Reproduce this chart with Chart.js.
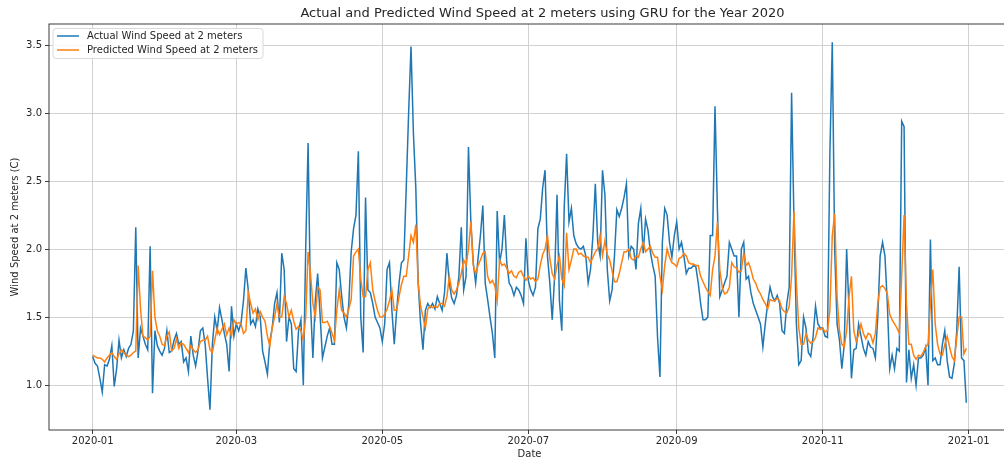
<!DOCTYPE html>
<html>
<head>
<meta charset="utf-8">
<title>Wind Speed GRU 2020</title>
<script src="https://cdn.jsdelivr.net/npm/chart.js@4.4.1/dist/chart.umd.min.js"></script>
<style>
  html, body { margin: 0; padding: 0; background: #fff; overflow: hidden; }
  #wrap { width: 1004px; height: 459px; overflow: hidden; position: relative; }
  canvas { position: absolute; left: 0; top: 0; }
</style>
</head>
<body>
<div id="wrap"><canvas id="chart" width="1030" height="470"></canvas></div>
<script>
const titleText = "Actual and Predicted Wind Speed at 2 meters using GRU for the Year 2020";
const actualLabel = "Actual Wind Speed at 2 meters";
const predictedLabel = "Predicted Wind Speed at 2 meters";

// day number (0 = 2020-01-01) of each month tick, and its label
const tickDays = [0, 60, 121, 182, 244, 305, 366];
const tickLabels = ["2020-01", "2020-03", "2020-05", "2020-07", "2020-09", "2020-11", "2021-01"];
const yTicks = [1.0, 1.5, 2.0, 2.5, 3.0, 3.5];

// one value per day, 2020-01-01 .. 2020-12-31
const actual = [
  1.21, 1.16, 1.14, 1.05, 0.95, 1.15, 1.14, 1.19, 1.29, 0.99,
  1.12, 1.33, 1.2, 1.26, 1.21, 1.27, 1.3, 1.4, 2.16, 1.2,
  1.42, 1.36, 1.3, 1.26, 2.02, 0.94, 1.4, 1.29, 1.25, 1.22,
  1.27, 1.4, 1.24, 1.25, 1.33, 1.38, 1.3, 1.32, 1.17, 1.2,
  1.1, 1.36, 1.22, 1.14, 1.25, 1.4, 1.42, 1.3, 1.05, 0.82,
  1.3, 1.5, 1.4, 1.57, 1.48, 1.38, 1.3, 1.1, 1.58, 1.36,
  1.45, 1.4, 1.46, 1.62, 1.86, 1.7, 1.45, 1.48, 1.43, 1.56,
  1.5, 1.25, 1.17, 1.08, 1.32, 1.42, 1.6, 1.68, 1.46, 1.97,
  1.85, 1.32, 1.5, 1.45, 1.12, 1.1, 1.4, 1.48, 1.0, 2.0,
  2.78, 1.6, 1.2, 1.62, 1.82, 1.52, 1.2, 1.28, 1.36, 1.42,
  1.3, 1.3, 1.9, 1.85, 1.66, 1.5, 1.42, 1.6, 1.98, 2.15,
  2.25, 2.72, 1.5, 1.24, 2.38, 1.7, 1.68, 1.6, 1.5, 1.46,
  1.42, 1.32, 1.45, 1.85, 1.9, 1.55, 1.3, 1.55, 1.75, 1.9,
  1.92, 2.45, 3.0, 3.49, 2.85, 2.45, 1.75, 1.45, 1.26, 1.55,
  1.6, 1.57, 1.6, 1.56, 1.65, 1.6, 1.55, 1.68, 1.97, 1.75,
  1.64, 1.6, 1.66, 1.8, 2.16, 1.7, 1.8, 2.75, 2.2, 1.9,
  1.75, 1.93, 2.1, 2.32, 1.75, 1.63, 1.5, 1.38, 1.2, 2.28,
  1.9, 2.0, 2.25, 1.9, 1.75, 1.72, 1.66, 1.72, 1.7, 1.66,
  1.6, 2.08, 1.77, 1.7, 1.66, 1.72, 2.15, 2.22, 2.45, 2.58,
  1.95, 1.75, 1.48, 1.8, 2.4, 1.62, 1.4, 2.3, 2.7, 2.2,
  2.3, 2.1, 2.04, 2.01, 2.0, 2.02, 1.95, 1.75, 1.85, 2.1,
  2.48, 2.05, 1.95, 2.58, 2.4, 1.85, 1.62, 1.7, 1.95, 2.29,
  2.24, 2.3, 2.38, 2.48, 1.95, 2.02, 2.0, 1.85, 2.19, 2.3,
  1.97, 2.22, 2.14, 1.98, 1.88, 1.8, 1.35, 1.06, 2.05, 2.3,
  2.25, 2.05, 1.94, 2.1, 2.2, 2.0, 2.05, 1.95, 1.82, 1.86,
  1.86, 1.88, 1.87, 1.75, 1.6, 1.48, 1.48, 1.5, 2.1, 2.1,
  3.05, 2.3, 1.65, 1.7, 1.75, 1.8, 2.05, 2.0, 1.95, 1.95,
  1.5, 2.0, 2.05, 1.78, 1.8, 1.68, 1.6, 1.55, 1.5, 1.45,
  1.28, 1.45, 1.6, 1.72, 1.65, 1.62, 1.66, 1.6, 1.4, 1.38,
  1.6, 1.72, 3.15, 2.2, 1.45, 1.15, 1.18, 1.5, 1.42, 1.24,
  1.21, 1.36, 1.58, 1.45, 1.42, 1.42, 1.36, 1.35, 2.7, 3.52,
  2.0, 1.45, 1.33, 1.12, 1.3, 2.0, 1.55, 1.05, 1.26, 1.27,
  1.45, 1.36, 1.27, 1.22, 1.32, 1.28, 1.27, 1.2, 1.5, 1.95,
  2.05, 1.95, 1.6, 1.12, 1.22, 1.12, 1.27, 1.25, 2.94, 2.9,
  1.02, 1.26, 1.05, 1.15, 1.0, 1.2, 1.2, 1.22, 1.28, 1.0,
  2.07, 1.18, 1.2, 1.15, 1.15, 1.3, 1.4, 1.18, 1.06, 1.05,
  1.16, 1.4, 1.87, 1.2, 1.18, 0.87
];

const predicted = [
  1.22, 1.21, 1.2, 1.2, 1.19, 1.17, 1.2, 1.22, 1.24, 1.21,
  1.19, 1.23, 1.26, 1.24, 1.22, 1.21, 1.22, 1.24, 1.25, 1.88,
  1.56, 1.36, 1.35, 1.33, 1.36, 1.84, 1.5, 1.4, 1.36, 1.3,
  1.29, 1.36, 1.39, 1.25, 1.27, 1.34, 1.27, 1.31, 1.3, 1.27,
  1.24, 1.29, 1.26, 1.24, 1.26, 1.32, 1.33, 1.33, 1.36, 1.26,
  1.24, 1.33, 1.42, 1.37, 1.41, 1.45, 1.37, 1.42, 1.36, 1.48,
  1.45, 1.46, 1.45, 1.38, 1.4, 1.68, 1.6, 1.53, 1.56, 1.48,
  1.54, 1.5, 1.47, 1.36, 1.29, 1.42, 1.5, 1.6, 1.5, 1.5,
  1.65, 1.6, 1.5, 1.55, 1.47, 1.41, 1.43, 1.4, 1.33, 1.5,
  1.98, 1.82, 1.6, 1.5, 1.72, 1.7, 1.46, 1.46, 1.47, 1.43,
  1.38, 1.33, 1.55, 1.7, 1.55, 1.53, 1.5, 1.56, 1.63, 1.95,
  1.98, 2.0, 1.78, 1.65, 1.65, 1.85, 1.9, 1.7, 1.62, 1.55,
  1.5, 1.5, 1.52, 1.56, 1.62, 1.7, 1.55, 1.55, 1.65, 1.74,
  1.8, 1.8, 1.95, 2.1, 2.05, 2.18, 1.75, 1.58, 1.5, 1.42,
  1.56, 1.58, 1.57, 1.58, 1.57, 1.6, 1.6, 1.58, 1.65, 1.8,
  1.7, 1.67, 1.7, 1.75, 1.82, 1.92, 1.88, 2.0, 2.2, 1.88,
  1.82, 1.88, 1.92, 1.97, 1.98, 1.8, 1.75, 1.77, 1.73, 1.62,
  1.92, 1.88, 1.89, 1.86, 1.82, 1.84, 1.8, 1.79, 1.83, 1.84,
  1.8, 1.77, 1.8, 1.78, 1.79, 1.76, 1.78, 1.88, 1.96, 2.0,
  2.1, 1.93, 1.82, 1.78, 1.88, 1.95, 1.78, 1.73, 2.12, 1.85,
  1.92, 2.0, 2.0, 1.96, 1.97, 1.95, 1.94, 1.94, 1.9, 1.94,
  1.98, 2.0, 2.1, 1.95, 2.06, 1.96, 1.92, 1.84, 1.76, 1.76,
  1.82, 1.9, 1.98, 1.98, 2.0, 1.93, 1.92, 1.95, 1.94, 2.0,
  2.05, 1.98, 2.0, 2.02, 1.97, 1.94, 1.94, 1.8, 1.7, 1.88,
  2.0, 1.94, 1.9, 1.89, 1.87, 1.93, 1.94, 1.97, 1.95, 1.9,
  1.89, 1.89, 1.88, 1.88, 1.8, 1.76, 1.72, 1.69, 1.66, 1.85,
  1.95, 2.2, 1.85, 1.72, 1.67, 1.68, 1.72, 1.9, 1.87, 1.86,
  1.83, 1.84, 1.97, 1.88, 1.9, 1.85, 1.78, 1.75, 1.7, 1.67,
  1.63, 1.6, 1.56, 1.63, 1.62, 1.62, 1.64, 1.62, 1.56, 1.54,
  1.53, 1.58, 1.8, 2.28, 1.75, 1.42, 1.3, 1.3, 1.38, 1.33,
  1.31, 1.32, 1.35, 1.42, 1.41, 1.42, 1.39, 1.4, 1.55, 2.1,
  2.26, 1.65, 1.4, 1.3, 1.28, 1.4, 1.65, 1.8, 1.4, 1.32,
  1.37, 1.45, 1.38, 1.34, 1.38, 1.37, 1.31, 1.38, 1.6, 1.72,
  1.73, 1.71, 1.67, 1.52, 1.48, 1.45, 1.42, 1.38, 1.8, 2.25,
  1.6, 1.3, 1.3, 1.22, 1.19, 1.22, 1.21, 1.24, 1.28, 1.3,
  1.6, 1.85, 1.45, 1.3, 1.23, 1.22, 1.3, 1.36, 1.28, 1.21,
  1.18, 1.35, 1.5, 1.5, 1.23, 1.27
];

const textColor = "#262626";
const gridColor = "#cccccc";
const baseFont = { family: "'DejaVu Sans', sans-serif", size: 10 };

// matplotlib-like box around the whole plot area
const frame = {
  id: "frame",
  afterDatasetsDraw(chart) {
    const { ctx, chartArea: a } = chart;
    ctx.save();
    ctx.strokeStyle = textColor;
    ctx.lineWidth = 0.9;
    ctx.strokeRect(a.left, a.top, a.right - a.left, a.bottom - a.top);
    ctx.restore();
  }
};

// title centred over the axes, not over the canvas
const topTitle = {
  id: "topTitle",
  afterDraw(chart) {
    const { ctx, chartArea: a } = chart;
    ctx.save();
    ctx.font = "13px 'DejaVu Sans', sans-serif";
    ctx.fillStyle = textColor;
    ctx.textAlign = "center";
    ctx.textBaseline = "middle";
    ctx.fillText(titleText, (a.left + a.right) / 2 + 13, 14);
    ctx.restore();
  }
};

// legend box inside the upper left corner
const boxLegend = {
  id: "boxLegend",
  afterDraw(chart) {
    const { ctx, chartArea: a } = chart;
    const sets = chart.data.datasets;
    ctx.save();
    ctx.font = "10px 'DejaVu Sans', sans-serif";
    const textW = Math.max(...sets.map(d => ctx.measureText(d.label).width));
    const x = a.left + 4, y = a.top + 4.5;
    const w = 4 + 22 + 8 + textW + 5, h = 30;
    ctx.beginPath();
    ctx.roundRect(x, y, w, h, 3);
    ctx.fillStyle = "rgba(255,255,255,0.85)";
    ctx.fill();
    ctx.strokeStyle = "#d9d9d9";
    ctx.lineWidth = 1;
    ctx.stroke();
    sets.forEach((d, i) => {
      const cy = y + 7.5 + i * 14;
      ctx.strokeStyle = d.borderColor;
      ctx.lineWidth = 1.5;
      ctx.beginPath();
      ctx.moveTo(x + 4, cy);
      ctx.lineTo(x + 26, cy);
      ctx.stroke();
      ctx.fillStyle = textColor;
      ctx.textBaseline = "middle";
      ctx.fillText(d.label, x + 34, cy + 0.5);
    });
    ctx.restore();
  }
};

new Chart(document.getElementById("chart"), {
  type: "line",
  data: {
    datasets: [
      {
        label: actualLabel,
        data: actual.map((v, i) => ({ x: i, y: v })),
        borderColor: "#1f77b4",
        borderWidth: 1.5,
        pointRadius: 0,
        tension: 0,
        order: 2
      },
      {
        label: predictedLabel,
        data: predicted.map((v, i) => ({ x: i, y: v })),
        borderColor: "#ff7f0e",
        borderWidth: 1.5,
        pointRadius: 0,
        tension: 0,
        order: 1
      }
    ]
  },
  options: {
    responsive: false,
    animation: false,
    devicePixelRatio: 1,
    layout: { padding: { top: 24, right: 20, left: 0, bottom: 0 }, autoPadding: false },
    plugins: {
      legend: { display: false },
      title: { display: false },
      tooltip: { enabled: false }
    },
    scales: {
      x: {
        type: "linear",
        min: -18.25,
        max: 383.25,
        afterBuildTicks: (axis) => { axis.ticks = tickDays.map(v => ({ value: v })); },
        afterFit: (scale) => { scale.height = 40; },
        border: { display: false },
        grid: { color: gridColor, lineWidth: 0.9, tickColor: textColor, tickLength: 4, drawTicks: true },
        ticks: {
          autoSkip: false,
          maxRotation: 0,
          padding: 1,
          color: textColor,
          font: baseFont,
          callback: (v) => tickLabels[tickDays.indexOf(v)]
        },
        title: {
          display: true,
          text: "Date",
          color: textColor,
          font: baseFont,
          padding: { top: 0, bottom: 10 }
        }
      },
      y: {
        min: 0.67,
        max: 3.655,
        afterBuildTicks: (axis) => { axis.ticks = yTicks.map(v => ({ value: v })); },
        afterFit: (scale) => { scale.width = 49; },
        border: { display: false },
        grid: { color: gridColor, lineWidth: 0.9, tickColor: textColor, tickLength: 4, drawTicks: true },
        ticks: {
          padding: 3,
          color: textColor,
          font: baseFont,
          callback: (v) => v.toFixed(1)
        },
        title: {
          display: true,
          text: "Wind Speed at 2 meters (C)",
          color: textColor,
          font: baseFont,
          padding: { top: 9, bottom: 0 }
        }
      }
    }
  },
  plugins: [frame, topTitle, boxLegend]
});
</script>
</body>
</html>
